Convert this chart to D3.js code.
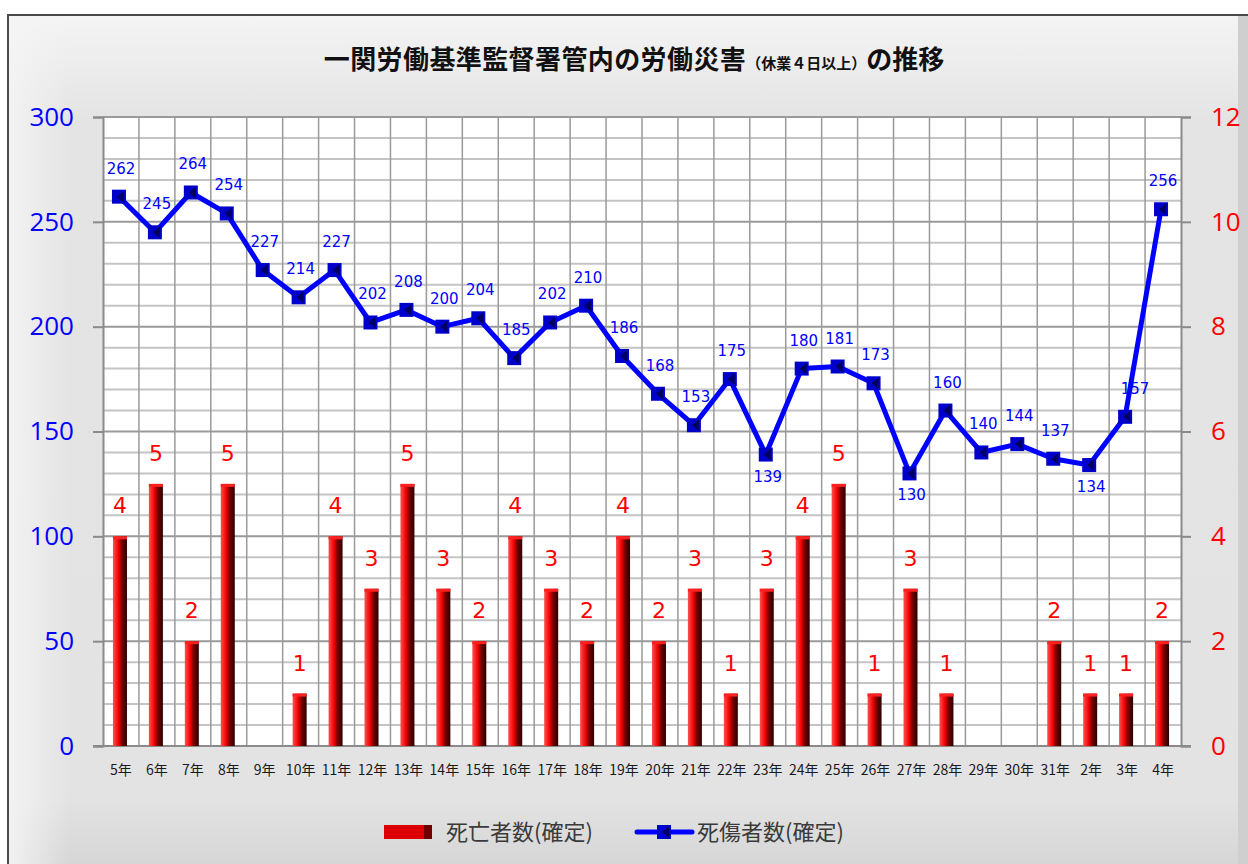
<!DOCTYPE html>
<meta charset="utf-8">
<head>
  <title>一関労働基準監督署管内の労働災害</title>
</head>
<style>
body { margin: 0; background: #fff; }
svg { display: block; }
.num { font-family: "DejaVu Sans", sans-serif; }
.ax { font-family: "Open Sans", sans-serif; }
.jp { font-family: "Noto Sans CJK JP", sans-serif; }
</style>
<body>
<svg width="1248" height="864"></svg>
<script src="https://cdnjs.cloudflare.com/ajax/libs/d3/7.8.5/d3.min.js"></script>
<script>
// years (Heisei 5 .. Heisei 31, Reiwa 2 .. 4)
var years = ['5年','6年','7年','8年','9年','10年','11年','12年','13年','14年','15年','16年','17年','18年','19年','20年','21年','22年','23年','24年','25年','26年','27年','28年','29年','30年','31年','2年','3年','4年']
// 死傷者数(確定) - left axis
var injured = [262,245,264,254,227,214,227,202,208,200,204,185,202,210,186,168,153,175,139,180,181,173,130,160,140,144,137,134,157,256]
// 死亡者数(確定) - right axis
var deaths = [4,5,2,5,0,1,4,3,5,3,2,4,3,2,4,2,3,1,3,4,5,1,3,1,0,0,2,1,1,2]
// points whose label sits under the marker
var labelBelow = ['23年','27年','2年']
var leftTicks = [0,50,100,150,200,250,300]
var rightTicks = [0,2,4,6,8,10,12]

var svg = d3.select('svg')
var defs = svg.append('defs')

var pg = defs.append('linearGradient').attr('id','panel').attr('x1',0).attr('y1',0).attr('x2',0).attr('y2',1)
pg.append('stop').attr('offset','0%').attr('stop-color','#f4f4f4')
pg.append('stop').attr('offset','12%').attr('stop-color','#e4e4e4')
pg.append('stop').attr('offset','90%').attr('stop-color','#e3e3e3')
pg.append('stop').attr('offset','100%').attr('stop-color','#d2d2d2')

var ph = defs.append('linearGradient').attr('id','panelL').attr('x1',0).attr('y1',0).attr('x2',1).attr('y2',0)
ph.append('stop').attr('offset','0%').attr('stop-color','#f4f4f4').attr('stop-opacity',0.9)
ph.append('stop').attr('offset','100%').attr('stop-color','#f4f4f4').attr('stop-opacity',0)

var bg = defs.append('linearGradient').attr('id','bar').attr('x1',0).attr('y1',0).attr('x2',1).attr('y2',0)
bg.append('stop').attr('offset','0%').attr('stop-color','#ff5050')
bg.append('stop').attr('offset','40%').attr('stop-color','#f00000')
bg.append('stop').attr('offset','62%').attr('stop-color','#7a0000')
bg.append('stop').attr('offset','100%').attr('stop-color','#2a0000')

// outer panel
svg.append('rect').attr('x',8).attr('y',15).attr('width',1260).attr('height',870)
  .attr('fill','url(#panel)').attr('stroke','#4a4a4a').attr('stroke-width',2)
svg.append('rect').attr('x',9).attr('y',16).attr('width',60).attr('height',848).attr('fill','url(#panelL)')
svg.append('rect').attr('x',1238).attr('y',16).attr('width',10).attr('height',848).attr('fill','#cfcfcf')

var plotL = 103, plotR = 1181, plotT = 117, plotB = 746

var x = d3.scaleBand().domain(years).range([plotL, plotR])
var yL = d3.scaleLinear().domain([0,300]).range([plotB, plotT])
var yR = d3.scaleLinear().domain([0,12]).range([plotB, plotT])
function cx(i) { return x(years[i]) + x.bandwidth()/2 }

// plot area
svg.append('rect').attr('x',plotL).attr('y',plotT).attr('width',plotR-plotL).attr('height',plotB-plotT).attr('fill','#fff')

// horizontal grid: every 10 units
var g = svg.append('g')
g.selectAll('line.h').data(d3.range(0,301,10)).join('line')
  .attr('x1',plotL).attr('x2',plotR)
  .attr('y1',function(d){ return yL(d) }).attr('y2',function(d){ return yL(d) })
  .attr('stroke',function(d){ return d % 50 === 0 ? '#9a9a9a' : '#c4c4c4' })
  .attr('stroke-width',2)
// vertical grid at category boundaries
g.selectAll('line.v').data(years.slice(1)).join('line')
  .attr('x1',function(d){ return x(d) }).attr('x2',function(d){ return x(d) })
  .attr('y1',plotT).attr('y2',plotB)
  .attr('stroke','#9a9a9a').attr('stroke-width',1.5)

// axes
var axL = svg.append('g').attr('transform','translate(' + plotL + ',0)')
  .call(d3.axisLeft(yL).tickValues(leftTicks).tickSize(10).tickPadding(19))
axL.select('.domain').attr('stroke','#8a8a8a').attr('stroke-width',2)
axL.selectAll('.tick line').attr('stroke','#8a8a8a').attr('stroke-width',2)
axL.selectAll('.tick text').attr('class','ax').attr('font-size',26).attr('fill','#0000ff')

var axR = svg.append('g').attr('transform','translate(' + plotR + ',0)')
  .call(d3.axisRight(yR).tickValues(rightTicks).tickSize(10).tickPadding(20))
axR.select('.domain').attr('stroke','#8a8a8a').attr('stroke-width',2)
axR.selectAll('.tick line').attr('stroke','#8a8a8a').attr('stroke-width',2)
axR.selectAll('.tick text').attr('class','ax').attr('font-size',26).attr('fill','#ff0000')

var axB = svg.append('g').attr('transform','translate(0,' + plotB + ')')
  .call(d3.axisBottom(x).tickSize(0).tickPadding(19))
axB.select('.domain').remove()
axB.selectAll('.tick text').attr('class','jp').attr('font-size',14).attr('fill','#1a1a1a')
svg.append('line').attr('x1',plotL-10).attr('x2',plotR+10).attr('y1',plotB).attr('y2',plotB)
  .attr('stroke','#8a8a8a').attr('stroke-width',2)

// bars
var bw = 14
var barData = deaths.map(function(d,i){ return {i: i, v: d} })
var bars = svg.append('g').selectAll('g').data(barData).join('g')
bars.append('rect')
  .attr('x',function(d){ return cx(d.i) - bw/2 - 1 })
  .attr('y',function(d){ return yR(d.v) })
  .attr('width',bw)
  .attr('height',function(d){ return plotB - yR(d.v) })
  .attr('fill','url(#bar)')
// top bevel highlight
bars.filter(function(d){ return d.v > 0 }).append('rect')
  .attr('x',function(d){ return cx(d.i) - bw/2 - 1 })
  .attr('y',function(d){ return yR(d.v) })
  .attr('width',bw).attr('height',3)
  .attr('fill','#ff2020')

svg.append('g').selectAll('text').data(barData.filter(function(d){ return d.v > 0 })).join('text')
  .attr('class','num')
  .attr('x',function(d){ return cx(d.i) - 1 })
  .attr('y',function(d){ return yR(d.v) - 23 })
  .attr('text-anchor','middle').attr('font-size',22).attr('fill','#ff0000')
  .text(function(d){ return d.v })

// line
var line = d3.line()
  .x(function(d,i){ return cx(i) - 2 })
  .y(function(d){ return yL(d) })
svg.append('path').datum(injured).attr('d',line)
  .attr('fill','none').attr('stroke','#0000ff').attr('stroke-width',5).attr('stroke-linejoin','round')

var mk = svg.append('g').selectAll('g').data(injured).join('g')
  .attr('transform',function(d,i){ return 'translate(' + (cx(i) - 2) + ',' + yL(d) + ')' })
mk.append('rect').attr('x',-7).attr('y',-7).attr('width',14).attr('height',14).attr('fill','#0000cc')
mk.append('path').attr('d','M-2,0 L5,-6 L5,6 Z').attr('fill','#000060')

svg.append('g').selectAll('text').data(injured).join('text')
  .attr('class','num')
  .attr('x',function(d,i){ return cx(i) + (years[i] === '3年' ? 8 : 0) })
  .attr('y',function(d,i){ return labelBelow.indexOf(years[i]) >= 0 ? yL(d) + 27 : yL(d) - 23 })
  .attr('text-anchor','middle').attr('font-size',15).attr('fill','#0000ff')
  .text(function(d){ return d })

// title
var title = svg.append('text').attr('class','jp').attr('x',634).attr('y',69)
  .attr('text-anchor','middle').attr('font-weight','bold').attr('fill','#111')
title.append('tspan').attr('font-size',26).attr('letter-spacing',0.4).text('一関労働基準監督署管内の労働災害')
title.append('tspan').attr('font-size',15).text('（休業４日以上）')
title.append('tspan').attr('font-size',26).text('の推移')

// legend
var lg = svg.append('g')
lg.append('rect').attr('x',384).attr('y',825).attr('width',48).attr('height',14).attr('fill','#dd0000')
lg.append('rect').attr('x',424).attr('y',825).attr('width',8).attr('height',14).attr('fill','#700000')
lg.append('text').attr('class','jp').attr('x',446).attr('y',840).attr('font-size',22).attr('fill','#3a3a3a').text('死亡者数(確定)')
lg.append('line').attr('x1',637).attr('x2',692).attr('y1',832).attr('y2',832).attr('stroke','#0000ff').attr('stroke-width',5).attr('stroke-linecap','round')
lg.append('rect').attr('x',657).attr('y',825).attr('width',14).attr('height',14).attr('fill','#0000cc')
lg.append('path').attr('d','M662,832 L669,826 L669,838 Z').attr('fill','#000060')
lg.append('text').attr('class','jp').attr('x',697).attr('y',840).attr('font-size',22).attr('fill','#3a3a3a').text('死傷者数(確定)')
</script>
</body>
</html>
